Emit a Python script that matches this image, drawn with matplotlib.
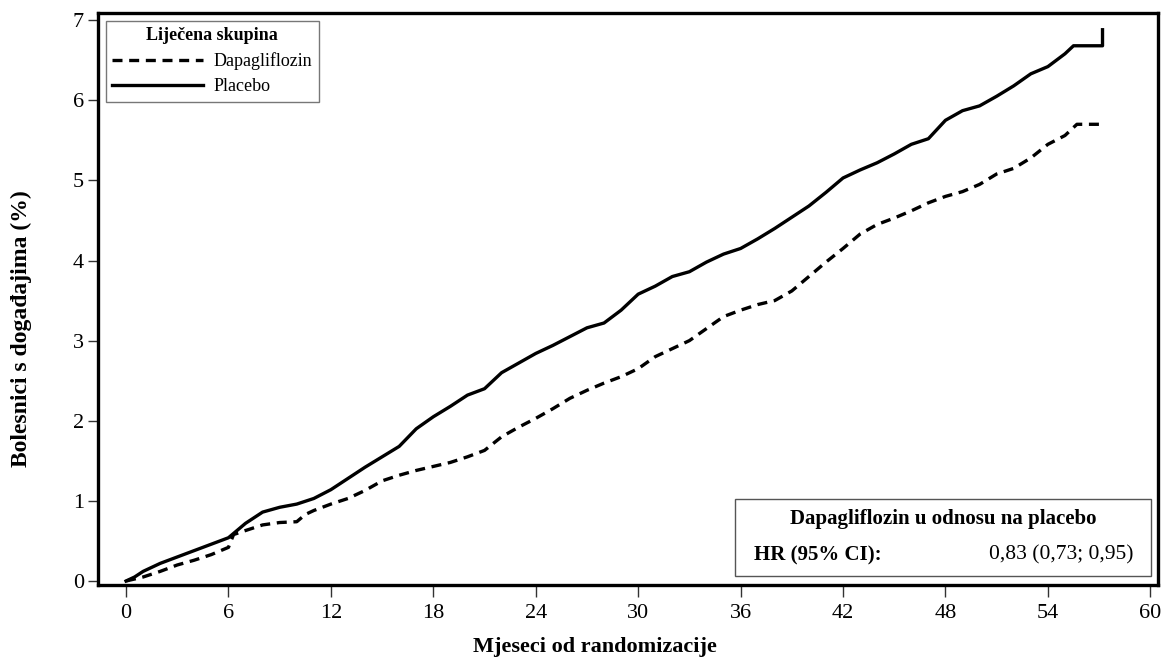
import matplotlib.pyplot as plt
import numpy as np

plt.rcParams['font.family'] = ['Liberation Serif', 'DejaVu Serif']

# months / cumulative % with events
placebo_x = [0, 0.5, 1, 2, 3, 4, 5, 6, 7, 8, 9, 10, 11, 12, 13, 14, 15, 16, 17, 18, 19, 20,
             21, 22, 23, 24, 25, 26, 27, 28, 29, 30, 31, 32, 33, 34, 35, 36, 37, 38, 39, 40,
             41, 42, 43, 44, 45, 46, 47, 48, 49, 50, 51, 52, 53, 54, 55, 55.5, 57.2, 57.2]
placebo_y = [0, 0.05, 0.12, 0.22, 0.30, 0.38, 0.46, 0.54, 0.72, 0.86, 0.92, 0.96, 1.03, 1.14,
             1.28, 1.42, 1.55, 1.68, 1.90, 2.05, 2.18, 2.32, 2.40, 2.60, 2.72, 2.84, 2.94, 3.05,
             3.16, 3.22, 3.38, 3.58, 3.68, 3.80, 3.86, 3.98, 4.08, 4.15, 4.27, 4.40, 4.54, 4.68,
             4.85, 5.03, 5.13, 5.22, 5.33, 5.45, 5.52, 5.75, 5.87, 5.93, 6.05, 6.18, 6.33, 6.42,
             6.58, 6.68, 6.68, 6.88]

dapa_x = [0, 1, 2, 3, 4, 5, 6, 6.3, 7, 8, 9, 10, 10.5, 11, 12, 13, 14, 15, 16, 17, 18, 19, 20,
          21, 22, 23, 24, 25, 26, 27, 28, 29, 30, 31, 32, 33, 34, 35, 36, 37, 38, 39, 40, 41,
          42, 43, 44, 45, 46, 47, 48, 49, 50, 51, 52, 53, 54, 55, 55.7, 57.2]
dapa_y = [0, 0.05, 0.12, 0.20, 0.26, 0.33, 0.42, 0.58, 0.63, 0.70, 0.73, 0.74, 0.83, 0.88,
          0.96, 1.03, 1.13, 1.25, 1.32, 1.38, 1.43, 1.48, 1.55, 1.63, 1.80, 1.92, 2.03, 2.15,
          2.28, 2.38, 2.47, 2.55, 2.65, 2.80, 2.90, 3.00, 3.15, 3.30, 3.38, 3.45, 3.50, 3.62,
          3.80, 3.98, 4.15, 4.33, 4.45, 4.53, 4.62, 4.72, 4.80, 4.86, 4.95, 5.08, 5.15, 5.28,
          5.45, 5.56, 5.70, 5.70]

xticks = [0, 6, 12, 18, 24, 30, 36, 42, 48, 54, 60]
yticks = [0, 1, 2, 3, 4, 5, 6, 7]

fig = plt.figure(figsize=(11.63, 6.66), dpi=100)
ax = fig.add_axes([0.0843, 0.1216, 0.9114, 0.859])

ax.plot(dapa_x, dapa_y, color='black', lw=2.4, ls=(0, (3, 2)), label='Dapagliflozin')
ax.plot(placebo_x, placebo_y, color='black', lw=2.4, label='Placebo')

ax.set_xlim(-1.64, 60.45)
ax.set_ylim(-0.05, 7.09)
ax.set_xticks(xticks)
ax.set_yticks(yticks)
ax.tick_params(axis='both', labelsize=16, width=1, direction='out', color='#333333')
ax.tick_params(axis='x', length=8.6, pad=5)
ax.tick_params(axis='y', length=7.2, pad=3)
for s in ax.spines.values():
    s.set_linewidth(2.4)

ax.set_xlabel('Mjeseci od randomizacije', fontsize=16, fontweight='bold')
ax.xaxis.set_label_coords(0.469, -0.09)
ax.set_ylabel('Bolesnici s događajima (%)', fontsize=17, fontweight='bold')
ax.yaxis.set_label_coords(-0.062, 0.448)

leg = ax.legend(loc='upper left', fontsize=13, title='Liječena skupina',
                title_fontproperties={'weight': 'bold', 'size': 13},
                frameon=True, fancybox=False, edgecolor='#555555', handlelength=5.0,
                borderaxespad=0.45, borderpad=0.35, labelspacing=0.45, handletextpad=0.6)
leg.get_frame().set_linewidth(1.0)

# HR box
bx0, by0, bw, bh = 0.6013, 0.0165, 0.392, 0.133
ax.add_patch(plt.Rectangle((bx0, by0), bw, bh, transform=ax.transAxes, fill=True,
                           facecolor='white', edgecolor='#555555', lw=1.0, zorder=5))
ax.text(bx0 + bw / 2, by0 + bh * 0.74, 'Dapagliflozin u odnosu na placebo', transform=ax.transAxes,
        ha='center', va='center', fontsize=15, fontweight='bold', zorder=6)
ax.text(bx0 + 0.018, by0 + bh * 0.27, 'HR (95% CI):', transform=ax.transAxes,
        ha='left', va='center', fontsize=15, fontweight='bold', zorder=6)
ax.text(bx0 + bw - 0.016, by0 + bh * 0.27, '0,83 (0,73; 0,95)', transform=ax.transAxes,
        ha='right', va='center', fontsize=15.5, zorder=6)

fig.savefig('out.png', dpi=100)
